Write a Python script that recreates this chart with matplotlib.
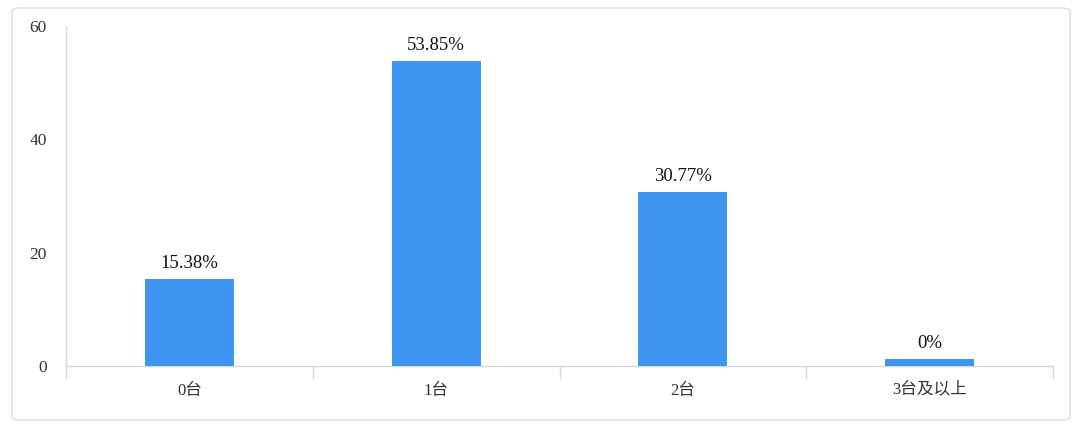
import matplotlib
matplotlib.use("Agg")
import matplotlib.pyplot as plt
from matplotlib.patches import FancyBboxPatch

categories = ["0台", "1台", "2台", "3台及以上"]
values = [15.38, 53.85, 30.77, 0]
labels = ["15.38%", "53.85%", "30.77%", "0%"]
y_ticks = [0, 20, 40, 60]

MIN_BAR = 1.3  # visual minimum height for zero bars
BAR_COLOR = "#3F95F2"
AXIS_COLOR = "#D3D7DE"
TEXT_COLOR = "#333333"
fam = ["Liberation Serif", "Noto Sans CJK SC", "DejaVu Sans"]

fig = plt.figure(figsize=(10.8, 4.28), dpi=100)
fig.patch.set_facecolor("white")

# rounded outer border
box = FancyBboxPatch((12 / 1080, 8 / 428), (1070 - 12) / 1080, (420 - 8) / 428,
                     boxstyle="round,pad=0,rounding_size=0.008",
                     transform=fig.transFigure, facecolor="white",
                     edgecolor="#DDDDDD", linewidth=1.0, zorder=-10)
fig.add_artist(box)

ax = fig.add_axes([66 / 1080, 1 - 366 / 428, (1053 - 66) / 1080, (366 - 26) / 428])
ax.set_facecolor("none")
ax.set_zorder(5)

x = list(range(len(categories)))
heights = [v if v > 0 else MIN_BAR for v in values]
bars = ax.bar(x, heights, width=0.36, color=BAR_COLOR, zorder=3)
for xi, h, lab in zip(x, heights, labels):
    ax.annotate(lab, (xi, h), xytext=(0, 5), textcoords="offset points",
                ha="center", va="bottom", fontsize=13.5, family=fam, color="#111111")

ax.set_xlim(-0.5, len(categories) - 0.5)
ax.set_ylim(0, 60)
ax.set_yticks(y_ticks)
ax.set_yticklabels([str(t) for t in y_ticks], family=fam, fontsize=12.5, color=TEXT_COLOR)
ax.tick_params(axis="y", length=0, pad=14)

ax.set_xticks(x)
ax.set_xticklabels(categories, family=fam, fontsize=12, color=TEXT_COLOR)
ax.tick_params(axis="x", which="major", length=0, pad=12)
ax.set_xticks([i + 0.5 for i in range(-1, len(categories))], minor=True)
ax.tick_params(axis="x", which="minor", length=9, color=AXIS_COLOR, width=1)

for s in ["top", "right"]:
    ax.spines[s].set_visible(False)
ax.spines["left"].set_color(AXIS_COLOR)
ax.spines["bottom"].set_color(AXIS_COLOR)
ax.spines["left"].set_linewidth(1)
ax.spines["bottom"].set_linewidth(1)

fig.savefig("out.png", dpi=100, facecolor="white")
